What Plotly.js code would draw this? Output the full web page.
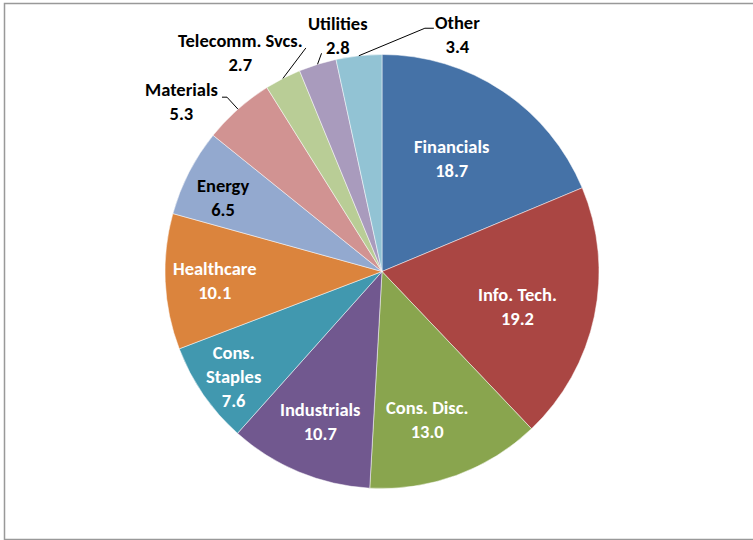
<!DOCTYPE html>
<html>
<head>
<meta charset="utf-8">
<script src="https://cdn.plot.ly/plotly-3.0.1.min.js"></script>
<style>html,body{margin:0;padding:0;background:#fff;}#chart{width:753px;height:540px;}</style>
</head>
<body>
<div id="chart"></div>
<script>
// ---- data ----
var sectors = ["Financials", "Info. Tech.", "Cons. Disc.", "Industrials", "Cons. Staples",
               "Healthcare", "Energy", "Materials", "Telecomm. Svcs.", "Utilities", "Other"];
var weights = [18.7, 19.2, 13.0, 10.7, 7.6, 10.1, 6.5, 5.3, 2.7, 2.8, 3.4];

// ---- styles ----
var colors = ["#4572A7", "#AA4643", "#89A54E", "#71588F", "#4198AF",
              "#DB843D", "#93A9CF", "#D19392", "#B9CD96", "#A99BBD", "#92C3D4"];
var W = 753, H = 540;
var CX = 382, CY = 271.5, R = 217;   // pie geometry in px
var FONT = "Carlito, 'Liberation Sans Narrow', 'Arial Narrow', 'Liberation Sans', Arial, sans-serif";

// label placement (layout only): inside labels -> fraction of radius + px shift
var inside = {
  "Financials":    {f: 0.625, dx: -6, dy: 0,   color: "#fff"},
  "Info. Tech.":   {f: 0.64,  dx: 0,  dy: 6,   color: "#fff"},
  "Cons. Disc.":   {f: 0.72,  dx: -9, dy: 1,   color: "#fff"},
  "Industrials":   {f: 0.75,  dx: 0,  dy: 0,   color: "#fff"},
  "Cons. Staples": {f: 0.83,  dx: 0,  dy: 3,   color: "#fff", br: true},
  "Healthcare":    {f: 0.775, dx: 0,  dy: 1.5, color: "#fff"},
  "Energy":        {f: 0.80,  dx: -4.5, dy: 5, color: "#000"}
};
// outside labels -> text offset from slice edge point, leader polyline offsets
var outside = {
  "Materials":       {tx: -56, ty: -7.5,  pts: [[-11, -12], [-16, -12]]},
  "Telecomm. Svcs.": {tx: -42, ty: -25.5, pts: [[23, -30.5]]},
  "Utilities":       {tx: 20,  ty: -28.5, pts: [[4, -11]]},
  "Other":           {tx: 99,  ty: -21,   pts: [[66, -27.5], [75, -27.5]]}
};

function px2x(px) { return px / W; }
function py2y(py) { return 1 - py / H; }

var total = weights.reduce(function (a, b) { return a + b; }, 0);
var annotations = [], shapes = [];
var cum = 0;
sectors.forEach(function (name, i) {
  var mid = (cum + weights[i] / 2) / total * 2 * Math.PI;
  cum += weights[i];
  var sx = Math.sin(mid), sy = -Math.cos(mid);
  var txt = weights[i].toFixed(1);
  if (inside[name]) {
    var c = inside[name];
    var label = c.br ? name.replace(" ", "<br>") : name;
    annotations.push({
      xref: "paper", yref: "paper",
      x: px2x(CX + c.f * R * sx + c.dx), y: py2y(CY + c.f * R * sy + c.dy),
      text: label + "<br>" + txt, showarrow: false,
      xanchor: "center", yanchor: "middle", align: "center",
      font: {family: FONT, size: 18.5, color: c.color, weight: "bold"}
    });
  } else if (outside[name]) {
    var o = outside[name];
    var ex = CX + R * sx, ey = CY + R * sy;
    annotations.push({
      xref: "paper", yref: "paper",
      x: px2x(ex + o.tx), y: py2y(ey + o.ty),
      text: name + "<br>" + txt, showarrow: false,
      xanchor: "center", yanchor: "middle", align: "center",
      font: {family: FONT, size: 18.5, color: "#000", weight: "bold"}
    });
    var path = "M " + px2x(ex) + " " + py2y(ey);
    o.pts.forEach(function (p) {
      path += " L " + px2x(ex + p[0]) + " " + py2y(ey + p[1]);
    });
    shapes.push({type: "path", xref: "paper", yref: "paper", path: path,
                 line: {color: "#000", width: 1}});
  }
});

// chart border
shapes.push({type: "rect", xref: "paper", yref: "paper",
  x0: px2x(4.5), x1: px2x(760), y0: py2y(539.5), y1: py2y(3.5),
  line: {color: "#999", width: 1.5}, fillcolor: "rgba(0,0,0,0)", layer: "above"});

var trace = {
  type: "pie",
  labels: sectors,
  values: weights,
  sort: false,
  direction: "clockwise",
  rotation: 0,
  textinfo: "none",
  hoverinfo: "label+value",
  marker: {colors: colors, line: {color: "rgba(255,255,255,0.7)", width: 0.7}},
  domain: {x: [px2x(CX - R), px2x(CX + R)], y: [py2y(CY + R), py2y(CY - R)]},
  showlegend: false
};

var layout = {
  width: W, height: H,
  margin: {l: 0, r: 0, t: 0, b: 0},
  paper_bgcolor: "#fff",
  showlegend: false,
  annotations: annotations,
  shapes: shapes
};

Plotly.newPlot("chart", [trace], layout, {displayModeBar: false, staticPlot: true});
</script>
</body>
</html>
